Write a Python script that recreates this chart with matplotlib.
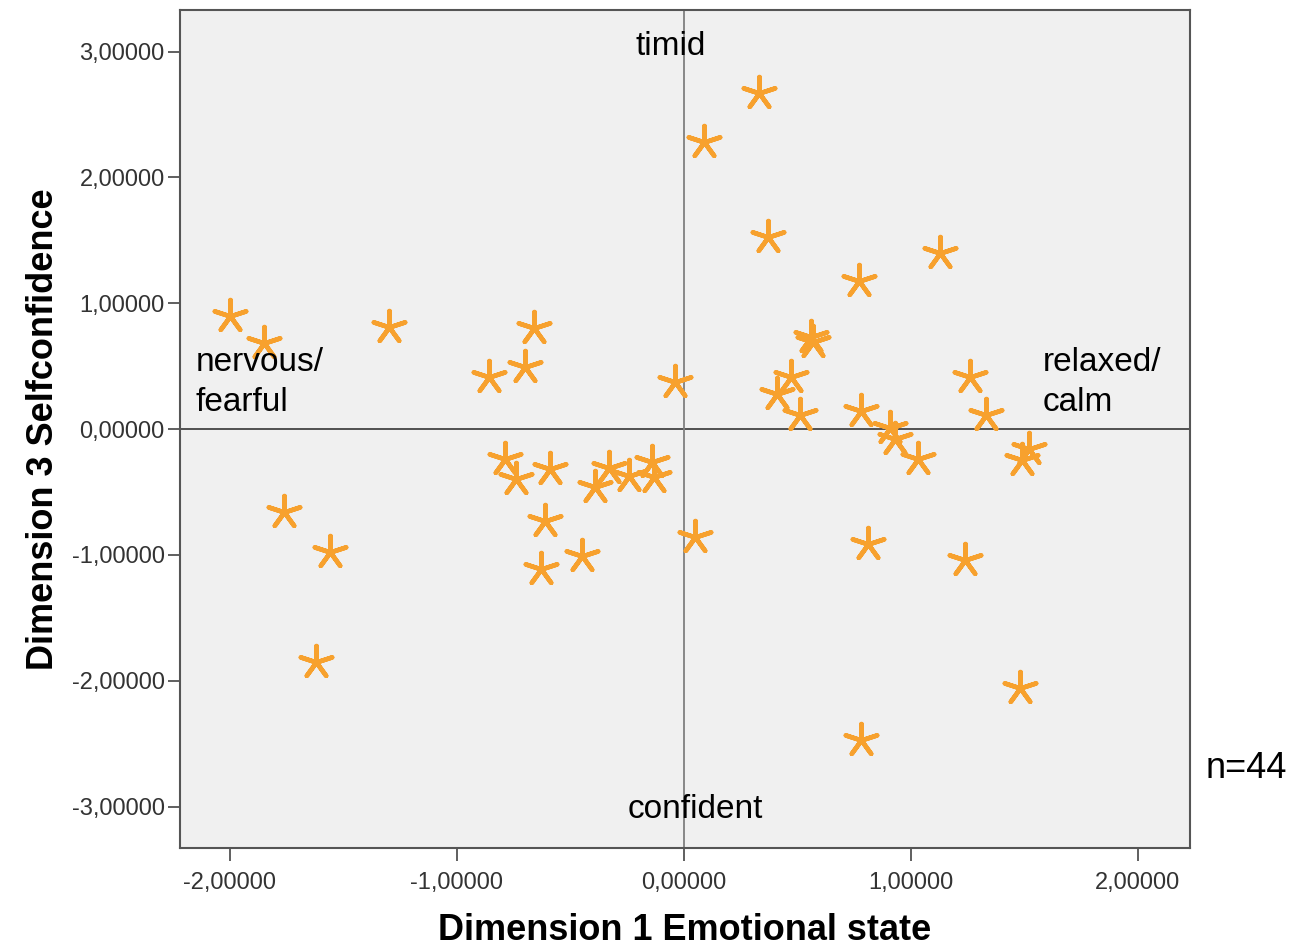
import matplotlib.pyplot as plt
from matplotlib.ticker import FuncFormatter

# Dimension 1 (Emotional state) / Dimension 3 (Selfconfidence) scores
dim1 = [-2.00, -1.85, -1.30, -0.66, -0.86, -0.70, -0.04, -1.76, -1.56, -1.62,
        -0.79, -0.74, -0.59, -0.61, -0.63, -0.45, -0.39, -0.33, -0.24, -0.14,
        -0.13, 0.05, 0.33, 0.09, 0.37, 0.77, 1.13, 0.56, 0.57, 0.47,
        0.41, 0.51, 0.78, 0.91, 0.93, 1.03, 1.26, 1.33, 1.52, 1.49,
        0.81, 1.24, 1.48, 0.78]
dim3 = [0.90, 0.68, 0.81, 0.80, 0.41, 0.49, 0.37, -0.66, -0.98, -1.85,
        -0.24, -0.40, -0.32, -0.73, -1.11, -1.01, -0.46, -0.31, -0.37, -0.26,
        -0.38, -0.86, 2.67, 2.28, 1.53, 1.18, 1.40, 0.73, 0.69, 0.41,
        0.28, 0.11, 0.14, 0.01, -0.08, -0.24, 0.41, 0.11, -0.16, -0.25,
        -0.91, -1.04, -2.06, -2.47]
ticks = [-3, -2, -1, 0, 1, 2, 3]

plt.rcParams['font.family'] = ['Liberation Sans', 'DejaVu Sans']

fig = plt.figure(figsize=(12.89, 9.47), dpi=100)
ax = fig.add_axes([0.1396, 0.1045, 0.7836, 0.8849])
ax.set_facecolor('#f0f0f0')

ax.axhline(0, color='#444444', lw=1.3, zorder=1)
ax.axvline(0, color='#808080', lw=1.3, zorder=1)
ax.scatter(dim1, dim3, marker=(5, 2, 0), s=560, color='#f7a12e',
           linewidths=3.3, zorder=3)

ax.set_xlim(-2.22, 2.23)
ax.set_ylim(-3.33, 3.33)
ax.set_xticks([t for t in ticks if abs(t) <= 2])
ax.set_yticks(ticks)
fmt = FuncFormatter(lambda v, p: f"{v:.5f}".replace('.', ','))
ax.xaxis.set_major_formatter(fmt)
ax.yaxis.set_major_formatter(fmt)
ax.tick_params(direction='out', length=9, width=1.2, color='#444444',
               labelsize=17, labelcolor='#333333', pad=2)
ax.tick_params(axis='x', pad=8)
for sp in ax.spines.values():
    sp.set_color('#555555')
    sp.set_linewidth(1.5)

ax.set_xlabel('Dimension 1 Emotional state', fontsize=26, fontweight='bold',
              labelpad=14)
ax.set_ylabel('Dimension 3 Selfconfidence', fontsize=26, fontweight='bold',
              labelpad=8)

ax.text(-0.06, 3.04, 'timid', fontsize=24, ha='center', va='center')
ax.text(0.05, -3.02, 'confident', fontsize=24, ha='center', va='center')
ax.text(-2.15, 0.37, 'nervous/\nfearful', fontsize=24, ha='left', va='center',
        linespacing=1.35)
ax.text(1.58, 0.37, 'relaxed/\ncalm', fontsize=24, ha='left', va='center',
        linespacing=1.35)
fig.text(0.967, 0.189, 'n=44', fontsize=26, ha='center', va='center')

fig.savefig('out.png', dpi=100)
